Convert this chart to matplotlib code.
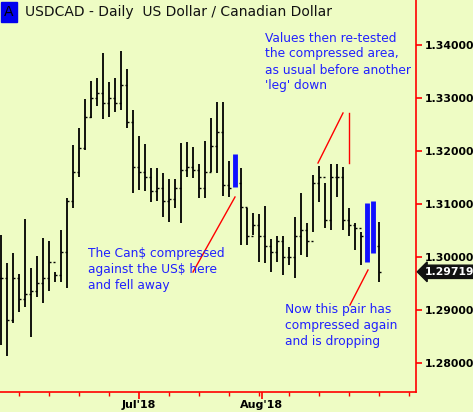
import matplotlib
matplotlib.use('Agg')
import matplotlib.pyplot as plt

# daily bars, USDCAD, late Jun -> late Aug 2018
highs = [1.3042, 1.2989, 1.3008, 1.2968, 1.3072, 1.2979, 1.3002, 1.3036, 1.3030, 1.2972,
         1.3051, 1.3111, 1.3211, 1.3243, 1.3298, 1.3332, 1.3338, 1.3385, 1.3330, 1.3338,
         1.3389, 1.3355, 1.3277, 1.3228, 1.3213, 1.3168, 1.3168, 1.3158, 1.3147, 1.3147,
         1.3215, 1.3217, 1.3208, 1.3175, 1.3219, 1.3262, 1.3292, 1.3292, 1.3181, 1.3194,
         1.3168, 1.3092, 1.3083, 1.3081, 1.3096, 1.3034, 1.3040, 1.3040, 1.3019, 1.3075,
         1.3121, 1.3064, 1.3155, 1.3172, 1.3140, 1.3175, 1.3175, 1.3170, 1.3092, 1.3064,
         1.3047, 1.3102, 1.3106, 1.3066]
lows = [1.2834, 1.2813, 1.2875, 1.2896, 1.2906, 1.2849, 1.2925, 1.2913, 1.2936, 1.2953,
        1.2953, 1.2942, 1.3092, 1.3151, 1.3202, 1.3262, 1.3285, 1.3260, 1.3264, 1.3274,
        1.3277, 1.3243, 1.3121, 1.3126, 1.3125, 1.3104, 1.3106, 1.3075, 1.3066, 1.3092,
        1.3064, 1.3151, 1.3149, 1.3111, 1.3111, 1.3160, 1.3158, 1.3115, 1.3113, 1.3132,
        1.3023, 1.3023, 1.3042, 1.2991, 1.2989, 1.2972, 1.2991, 1.2966, 1.2985, 1.2960,
        1.3004, 1.3000, 1.3047, 1.3104, 1.3055, 1.3051, 1.3113, 1.3051, 1.3040, 1.3013,
        1.2985, 1.2991, 1.3008, 1.2953]
closes = [1.2960, 1.2880, 1.2960, 1.2920, 1.2930, 1.2935, 1.2950, 1.2960, 1.2990, 1.2965,
          1.3010, 1.3105, 1.3160, 1.3205, 1.3265, 1.3300, 1.3310, 1.3290, 1.3300, 1.3290,
          1.3325, 1.3255, 1.3170, 1.3160, 1.3150, 1.3125, 1.3130, 1.3105, 1.3110, 1.3130,
          1.3165, 1.3170, 1.3165, 1.3130, 1.3160, 1.3210, 1.3235, 1.3135, 1.3130, 1.3140,
          1.3095, 1.3040, 1.3060, 1.3040, 1.3020, 1.3010, 1.3030, 1.3000, 1.3000, 1.3040,
          1.3050, 1.3030, 1.3140, 1.3150, 1.3070, 1.3150, 1.3150, 1.3070, 1.3060, 1.3055,
          1.3040, 1.3000, 1.3020, 1.29719]
compressed = [39, 61, 62]
last_price = 1.29719

y_ticks = [1.28, 1.29, 1.30, 1.31, 1.32, 1.33, 1.34]
week_ticks = [3 + 5 * k for k in range(14)]
month_ticks = {23: "Jul'18", 43.5: "Aug'18"}

W, H = 473, 412
bg = '#eefcc4'
fig = plt.figure(figsize=(W / 100, H / 100), dpi=100, facecolor=bg)
ax = fig.add_axes([0, 20 / H, 416 / W, 392 / H], facecolor=bg)


def px(x, y):
    return x / W, 1 - y / H


for i in range(len(highs)):
    if i in compressed:
        ax.vlines(i, lows[i], highs[i], color='#1010ff', lw=3.5)
        continue
    ax.vlines(i, lows[i], highs[i], color='black', lw=1.3)
    op = closes[i - 1] if i > 0 else closes[i]
    ax.hlines(op, i - 0.35, i, color='black', lw=1)
    ax.hlines(closes[i], i, i + 0.35, color='black', lw=1)

ax.set_xlim(-0.17, 69.2)
ax.set_ylim(1.2745, 1.3485)
for s in ['top', 'left']:
    ax.spines[s].set_visible(False)
for s in ['right', 'bottom']:
    ax.spines[s].set_color('red')
    ax.spines[s].set_linewidth(1.2)
ax.yaxis.tick_right()
ax.set_yticks(y_ticks)
ax.set_yticklabels(['%.5f' % v for v in y_ticks], fontsize=7.8, fontweight='bold')
ax.tick_params(axis='y', colors='red', labelcolor='black', length=4, width=1.2, pad=2)
ax.set_xticks(week_ticks, minor=True)
ax.set_xticks(list(month_ticks.keys()))
ax.set_xticklabels(list(month_ticks.values()), fontsize=8, fontweight='bold')
ax.tick_params(axis='x', which='major', colors='red', labelcolor='black', length=5, width=1.2, pad=1)
ax.tick_params(axis='x', which='minor', colors='red', length=3, width=1)

# last price flag
ax.annotate('%.5f' % last_price, xy=(1.0, last_price), xycoords=('axes fraction', 'data'),
            xytext=(6, 0), textcoords='offset points', va='center', ha='left',
            fontsize=7.8, fontweight='bold', color='white',
            bbox=dict(boxstyle='larrow,pad=0.15', fc='#111111', ec='#111111'),
            annotation_clip=False)

# title
fig.text(*px(4, 12), 'A', fontsize=10, color='black', va='center', ha='left',
         bbox=dict(boxstyle='square,pad=0.25', fc='#0000ee', ec='#0000ee'))
fig.text(*px(25, 12), 'USDCAD - Daily  US Dollar / Canadian Dollar', fontsize=10,
         color='#111111', va='center', ha='left')

blue = '#2020ff'
fig.text(*px(265, 62), "Values then re-tested\nthe compressed area,\nas usual before another\n'leg' down",
         fontsize=8.8, color=blue, va='center', ha='left', linespacing=1.3)
fig.text(*px(88, 269), "The Can$ compressed\nagainst the US$ here\nand fell away",
         fontsize=8.8, color=blue, va='center', ha='left', linespacing=1.3)
fig.text(*px(285, 326), "Now this pair has\ncompressed again\nand is dropping",
         fontsize=8.8, color=blue, va='center', ha='left', linespacing=1.3)

for (x0, y0), (x1, y1) in [((193, 272), (235, 197)), ((318, 163), (343, 113)),
                           ((349, 113), (349, 163)), ((350, 305), (368, 270))]:
    a, b = px(x0, y0)
    c, d = px(x1, y1)
    fig.add_artist(plt.Line2D([a, c], [b, d], color='red', lw=1, transform=fig.transFigure))

fig.savefig('out.png', dpi=100, facecolor=bg)
